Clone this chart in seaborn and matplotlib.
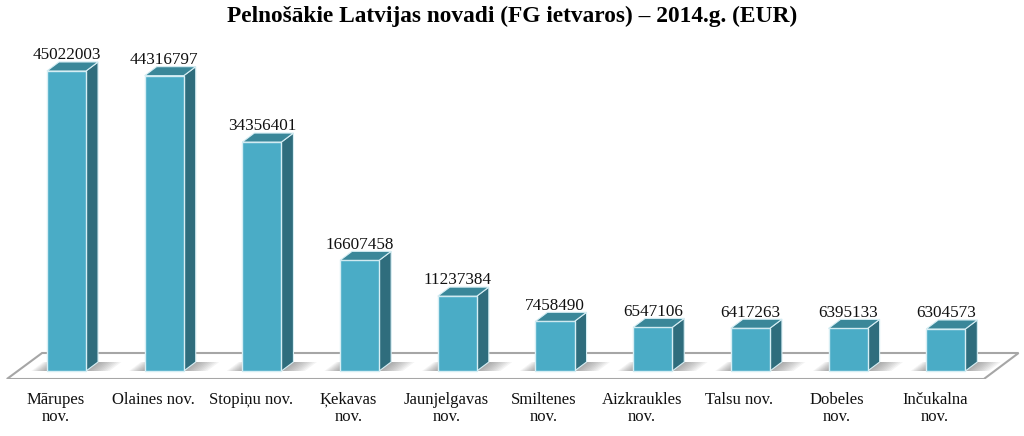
import numpy as np
import pandas as pd
import seaborn as sns
import matplotlib.pyplot as plt
from matplotlib.patches import Polygon
from matplotlib.transforms import ScaledTranslation

regions = ['Mārupes\nnov.', 'Olaines nov.', 'Stopiņu nov.', 'Ķekavas\nnov.',
           'Jaunjelgavas\nnov.', 'Smiltenes\nnov.', 'Aizkraukles\nnov.',
           'Talsu nov.', 'Dobeles\nnov.', 'Inčukalna\nnov.']
values = [45022003, 44316797, 34356401, 16607458, 11237384,
          7458490, 6547106, 6417263, 6395133, 6304573]

df = pd.DataFrame({'region': regions, 'value': values})

sns.set_style('white')
plt.rcParams['font.family'] = ['Liberation Serif', 'DejaVu Serif']

FRONT = '#4aacc6'
SIDE = '#2f6d7d'
TOP = '#3a8799'
EDGE = '#d6eef4'
FLOOR_EDGE = '#a6a6a6'

fig = plt.figure(figsize=(10.24, 4.36), dpi=100)
ax = fig.add_axes([0, 57 / 436, 1, 379 / 436])

sns.barplot(data=df, x='region', y='value', color=FRONT, width=0.4,
            edgecolor=EDGE, linewidth=1, saturation=1, ax=ax, zorder=5)

# pixel-based scale: 97.7 px per category, 6.664 px per million EUR
px_per_val = 6.664e-6
ax.set_xlim(-66.5 / 97.7, (1024 - 66.5) / 97.7)
ax.set_ylim(-8 / px_per_val, 371 / px_per_val)

ddx = 12 / 97.7          # bar depth along x
ddy = 9 / px_per_val     # bar depth along y

# floor
front_y = -8 / px_per_val
back_y = 18 / px_per_val
fl, fr = -0.61, len(regions) - 0.61
floor = Polygon([(fl, front_y), (fr, front_y), (fr + 0.355, back_y), (fl + 0.36, back_y)],
                closed=True, facecolor='white', edgecolor=FLOOR_EDGE, linewidth=1.5, zorder=1)
ax.add_patch(floor)

for p in list(ax.patches)[:len(regions)]:
    x, w, h = p.get_x(), p.get_width(), p.get_height()
    # soft shadow at the base
    for k in range(10):
        e1 = 0.16 * (k + 1) / 10
        e2 = 0.24 * (k + 1) / 10
        ax.add_patch(Polygon([(x - e1, 0), (x + w + ddx + e2 - ddx, 0),
                              (x + w + ddx + e2, ddy), (x - e1 + ddx, ddy)],
                             closed=True, facecolor='#606060', edgecolor='none',
                             alpha=0.065, zorder=2))
    ax.add_patch(Polygon([(x + w, 0), (x + w + ddx, ddy), (x + w + ddx, h + ddy), (x + w, h)],
                         closed=True, facecolor=SIDE, edgecolor=EDGE, linewidth=0.8, zorder=4))
    ax.add_patch(Polygon([(x, h), (x + w, h), (x + w + ddx, h + ddy), (x + ddx, h + ddy)],
                         closed=True, facecolor=TOP, edgecolor=EDGE, linewidth=0.8, zorder=6))
    ax.text(x + w / 2, h + ddy * 0.85, f'{int(h)}', ha='center', va='bottom',
            fontsize=12.3, color='#111111', zorder=7)

sns.despine(ax=ax, left=True, bottom=True)
ax.set_xlabel('')
ax.set_ylabel('')
ax.set_yticks([])
ax.set_xticks(range(len(regions)))
ax.set_xticklabels(regions, fontsize=12, color='#111111')
ax.set_xticks(np.arange(len(regions) + 1) - 0.61, minor=True)
ax.tick_params(axis='x', which='major', length=0, pad=9)
ax.tick_params(axis='x', which='minor', length=5, width=1.3, color=FLOOR_EDGE, direction='out')
# shift labels to the centre of the floor's front segment
for lbl in ax.get_xticklabels():
    lbl.set_transform(lbl.get_transform() + ScaledTranslation(-11 / 100, 0, fig.dpi_scale_trans))
    lbl.set_linespacing(1.15)

fig.suptitle('Pelnošākie Latvijas novadi (FG ietvaros) – 2014.g. (EUR)',
             fontsize=16.8, fontweight='bold', y=0.962, va='center', color='black')

plt.savefig('out.png', dpi=100)
plt.close()
